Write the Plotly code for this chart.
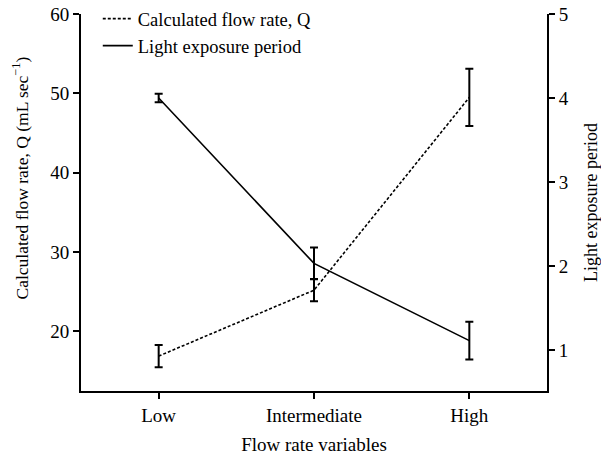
import plotly.graph_objects as go

categories = ["Low", "Intermediate", "High"]
flow_q = [16.9, 25.2, 49.5]
flow_q_err = [1.4, 1.4, 3.6]
light = [4.0, 2.03, 1.11]
light_err = [0.05, 0.19, 0.225]

left_ticks = [20, 30, 40, 50, 60]
right_ticks = [1, 2, 3, 4, 5]

FONT = "Liberation Serif, Times New Roman, serif"

fig = go.Figure()
fig.add_trace(go.Scatter(
    x=categories, y=flow_q, mode="lines", name="Calculated flow rate, Q",
    line=dict(color="black", width=1.6, dash="3px,2px"),
    error_y=dict(type="data", array=flow_q_err, visible=True, color="black", thickness=2, width=4),
    yaxis="y",
))
fig.add_trace(go.Scatter(
    x=categories, y=light, mode="lines", name="Light exposure period",
    line=dict(color="black", width=1.6),
    error_y=dict(type="data", array=light_err, visible=True, color="black", thickness=2, width=4),
    yaxis="y2",
))

fig.update_layout(
    width=601, height=455,
    margin=dict(l=81, r=54, t=14, b=64, autoexpand=False),
    paper_bgcolor="white", plot_bgcolor="white",
    font=dict(family=FONT, size=19, color="black"),
    showlegend=True,
    legend=dict(x=0.036, y=1.037, xanchor="left", yanchor="top",
                bgcolor="rgba(0,0,0,0)", borderwidth=0,
                font=dict(family=FONT, size=18.5, color="black"), tracegroupgap=0),
    xaxis=dict(
        type="category", range=[-0.5, 2.5],
        showline=True, linecolor="black", linewidth=2,
        ticks="outside", ticklen=6, tickwidth=2, tickcolor="black",
        showgrid=False, zeroline=False,
        title=dict(text="Flow rate variables", standoff=13, font=dict(family=FONT, size=19, color="black")),
        tickfont=dict(family=FONT, size=19, color="black"),
    ),
    yaxis=dict(
        range=[12.5, 60], tickvals=left_ticks,
        showline=True, linecolor="black", linewidth=2,
        ticks="outside", ticklen=6, tickwidth=2, tickcolor="black",
        showgrid=False, zeroline=False,
        tickfont=dict(family=FONT, size=19, color="black"),
    ),
    yaxis2=dict(
        range=[0.51, 5], tickvals=right_ticks, overlaying="y", side="right",
        showline=True, linecolor="black", linewidth=2,
        ticks="outside", ticklen=6, tickwidth=2, tickcolor="black",
        showgrid=False, zeroline=False,
        title=dict(text="Light exposure period", standoff=20, font=dict(family=FONT, size=18, color="black")),
        tickfont=dict(family=FONT, size=19, color="black"),
    ),
    annotations=[dict(
        text="Calculated flow rate, Q (mL sec<sup>−1</sup>)",
        xref="paper", yref="paper", x=-0.131, y=0.5, xanchor="center", yanchor="middle",
        textangle=-90, showarrow=False, font=dict(family=FONT, size=17.5, color="black"),
        yshift=25,
    )],
)

fig.write_html("out.html")
